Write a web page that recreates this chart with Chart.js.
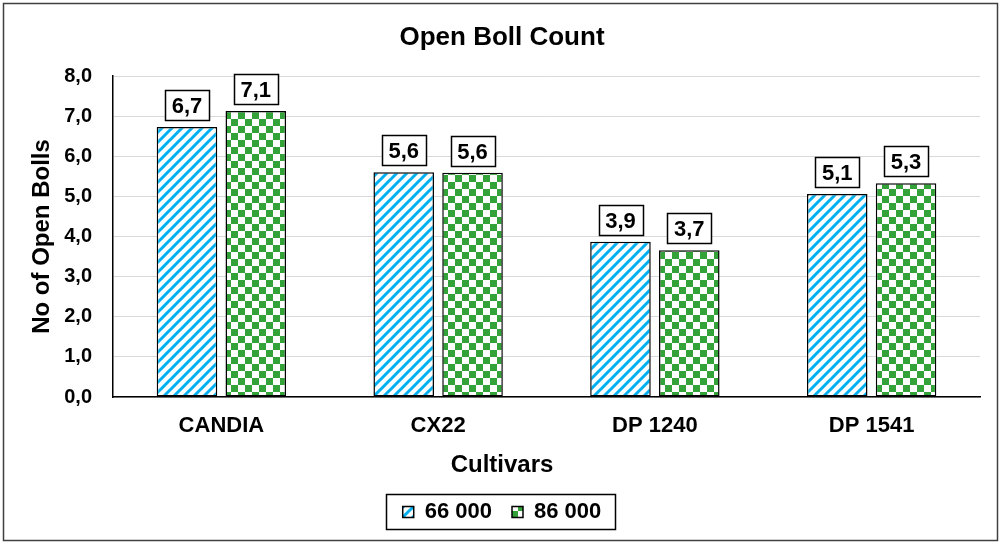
<!DOCTYPE html>
<html>
<head>
<meta charset="utf-8">
<script src="https://cdn.jsdelivr.net/npm/chart.js@4"></script>
<style>
  html, body { margin: 0; padding: 0; background: #fff; }
  #wrap { width: 1001px; height: 545px; }
</style>
</head>
<body>
<div id="wrap"><canvas id="c" width="1001" height="545"></canvas></div>
<script>
const categories = ['CANDIA', 'CX22', 'DP 1240', 'DP 1541'];
const seriesNames = ['66 000', '86 000'];
const values66 = [6.73, 5.60, 3.87, 5.06];
const values86 = [7.13, 5.59, 3.66, 5.33];
const yTicks = { min: 0, max: 8, step: 1 };

const FONT = "'Liberation Sans', Arial, sans-serif";
const canvas = document.getElementById('c');
const ctx = canvas.getContext('2d');

function makeStripes() {
  const c = document.createElement('canvas');
  c.width = 10; c.height = 10;
  const x = c.getContext('2d');
  x.fillStyle = '#ffffff'; x.fillRect(0, 0, 10, 10);
  x.strokeStyle = '#00B0F0'; x.lineWidth = 3;
  x.beginPath();
  x.moveTo(-5, 5); x.lineTo(5, -5);
  x.moveTo(0, 10); x.lineTo(10, 0);
  x.moveTo(5, 15); x.lineTo(15, 5);
  x.stroke();
  return ctx.createPattern(c, 'repeat');
}
function makeChecker() {
  const c = document.createElement('canvas');
  c.width = 14; c.height = 14;
  const x = c.getContext('2d');
  x.fillStyle = '#ffffff'; x.fillRect(0, 0, 14, 14);
  x.fillStyle = '#33A339';
  x.fillRect(0, 0, 7, 7); x.fillRect(7, 7, 7, 7);
  return ctx.createPattern(c, 'repeat');
}

const framePlugin = {
  id: 'frame',
  beforeDraw(chart) {
    const g = chart.ctx;
    g.save();
    g.fillStyle = '#fff';
    g.fillRect(0, 0, chart.width, chart.height);
    g.strokeStyle = '#404040';
    g.lineWidth = 1.5;
    g.strokeRect(3.5, 3.5, 994, 537);
    g.restore();
  },
  afterDraw(chart) {
    const lg = chart.legend;
    if (!lg || !lg.legendHitBoxes || !lg.legendHitBoxes.length) return;
    const hb = lg.legendHitBoxes;
    let l = Infinity, r = -Infinity, t = Infinity, b = -Infinity;
    hb.forEach(h => { l = Math.min(l, h.left); r = Math.max(r, h.left + h.width); t = Math.min(t, h.top); b = Math.max(b, h.top + h.height); });
    const g = chart.ctx;
    g.save();
    g.strokeStyle = '#000';
    g.lineWidth = 1.5;
    g.strokeRect(Math.round(l - 17) + 0.5, Math.round(t - 7) + 0.5, Math.round(r - l + 30), Math.round(b - t + 13));
    g.restore();
  }
};

const labelPlugin = {
  id: 'boxLabels',
  afterDatasetsDraw(chart) {
    const g = chart.ctx;
    g.save();
    g.font = "bold 22px " + FONT;
    g.textAlign = 'center';
    g.textBaseline = 'middle';
    chart.data.datasets.forEach((ds, di) => {
      const meta = chart.getDatasetMeta(di);
      meta.data.forEach((bar, i) => {
        const txt = ds.data[i].toFixed(1).replace('.', ',');
        const w = g.measureText(txt).width + 13;
        const h = 30;
        const bottom = bar.y - 7;
        const x0 = Math.round(bar.x - w / 2) + 0.5;
        const y0 = Math.round(bottom - h) + 0.5;
        g.fillStyle = '#fff';
        g.fillRect(x0, y0, Math.round(w), h);
        g.strokeStyle = '#000';
        g.lineWidth = 1.5;
        g.strokeRect(x0, y0, Math.round(w), h);
        g.fillStyle = '#000';
        g.fillText(txt, bar.x, y0 + h / 2 + 1);
      });
    });
    g.restore();
  }
};

new Chart(canvas, {
  type: 'bar',
  data: {
    labels: categories,
    datasets: [
      { label: seriesNames[0], data: values66, backgroundColor: makeStripes(), borderColor: '#000', borderWidth: 1.5, borderSkipped: false },
      { label: seriesNames[1], data: values86, backgroundColor: makeChecker(), borderColor: '#000', borderWidth: 1.5, borderSkipped: false }
    ]
  },
  options: {
    responsive: false,
    animation: false,
    devicePixelRatio: 1,
    categoryPercentage: 0.635,
    barPercentage: 0.88,
    layout: { padding: { top: 6, left: 24, right: 21, bottom: 12 } },
    plugins: {
      tooltip: { enabled: false },
      title: {
        display: true, text: 'Open Boll Count', color: '#000',
        font: { family: FONT, size: 26, weight: 'bold' },
        padding: { top: 16.4, bottom: 22.4 }
      },
      subtitle: {
        display: true, text: 'Cultivars', position: 'bottom', color: '#000',
        font: { family: FONT, size: 24, weight: 'bold' },
        padding: { top: 6.1, bottom: 1.1 }
      },
      legend: {
        position: 'bottom', weight: 2000, maxHeight: 65,
        labels: {
          color: '#000', boxWidth: 11, boxHeight: 11, padding: 20,
          font: { family: FONT, size: 22, weight: 'bold' }
        }
      }
    },
    scales: {
      x: {
        grid: { display: false, drawTicks: false },
        border: { display: true, color: '#000', width: 1.5 },
        ticks: { color: '#000', padding: 15.3, font: { family: FONT, size: 22, weight: 'bold' } },
        afterFit(s) { s.height = 48; }
      },
      y: {
        min: yTicks.min, max: yTicks.max,
        grid: { color: '#d9d9d9', lineWidth: 1, drawTicks: false },
        border: { display: true, color: '#000', width: 1.5 },
        ticks: {
          stepSize: yTicks.step, color: '#000', padding: 21,
          font: { family: FONT, size: 20, weight: 'bold' },
          callback: v => Number(v).toFixed(1).replace('.', ',')
        },
        title: {
          display: true, text: 'No of Open Bolls', color: '#000',
          font: { family: FONT, size: 24, weight: 'bold' },
          padding: { top: 3.6, bottom: 0 }
        },
        afterFit(s) { s.width = 89; }
      }
    }
  },
  plugins: [framePlugin, labelPlugin]
});
</script>
</body>
</html>
